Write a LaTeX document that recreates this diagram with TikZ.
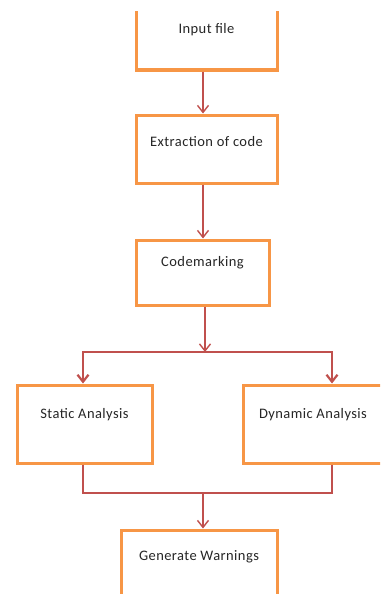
\documentclass[tikz,border=0pt]{standalone}
\usepackage{fontspec}
\setmainfont{Carlito}
\usetikzlibrary{arrows.meta,calc}
\definecolor{boxorange}{HTML}{F79646}
\definecolor{arrred}{HTML}{C0504D}
\definecolor{txtgray}{HTML}{262626}
\tikzset{
  box/.style={draw=boxorange, line width=3pt, fill=white, minimum width=#1, inner sep=0pt},
  txt/.style={font=\addfontfeatures{LetterSpace=3}\fontsize{14.5}{16}\selectfont, text=txtgray},
  lbl/.style={txt, anchor=center, yshift=-28pt},
  conn/.style={draw=arrred, line width=1.4pt},
  arr/.style={conn, -{Straight Barb[length=7pt,width=11pt,line width=1.4pt]}},
  arrthick/.style={draw=arrred, line width=2.2pt, -{Straight Barb[length=7pt,width=11pt,line width=2.2pt]}},
}
\begin{document}
\begin{tikzpicture}[x=1pt,y=-1pt]
\useasboundingbox (0,0) rectangle (380,594);
\begin{scope}
\clip (0,12) rectangle (380,594);
\node[box=141pt, minimum height=80pt] (input) at (206.5,30) {};
\node[txt] (inputtxt) at (206.5,30) {Input file};
\node[box=141pt, minimum height=68pt, label={[lbl]north:Extraction of code}] (extract) at (206.5,149) {};
\node[box=133pt, minimum height=65pt, label={[lbl,yshift=4pt]north:Codemarking}] (codemark) at (202.5,272.5) {};
\node[box=135pt, minimum height=78pt, label={[lbl,yshift=-3pt]north:Static Analysis}] (static) at (84.5,424) {};
\node[box=140pt, minimum height=78pt, label={[lbl,yshift=-3pt]north:Dynamic Analysis}] (dynamic) at (313,424) {};
\node[box=156pt, minimum height=90pt, label={[lbl]north:Generate Warnings}] (generate) at (199,575) {};
\coordinate (split) at (205,352);
\coordinate (merge) at (203,493);
\draw[arr] ([xshift=-3.5pt]input.south) -- ([xshift=-3.5pt]extract.north);
\draw[arr] ([xshift=-3.5pt]extract.south) -- ([xshift=-3.5pt]extract.south |- codemark.north);
\draw[arr] (codemark.south -| split) -- (split);
\draw[arrthick] (split) -| ([xshift=-1.5pt]static.north);
\draw[arrthick] (split) -| ([xshift=19pt]dynamic.north);
\draw[conn] ([xshift=-1.5pt]static.south) |- (merge);
\draw[conn] ([xshift=19pt]dynamic.south) |- (merge);
\draw[arr] (merge) -- ([xshift=4pt]generate.north);
\end{scope}
\end{tikzpicture}
\end{document}
